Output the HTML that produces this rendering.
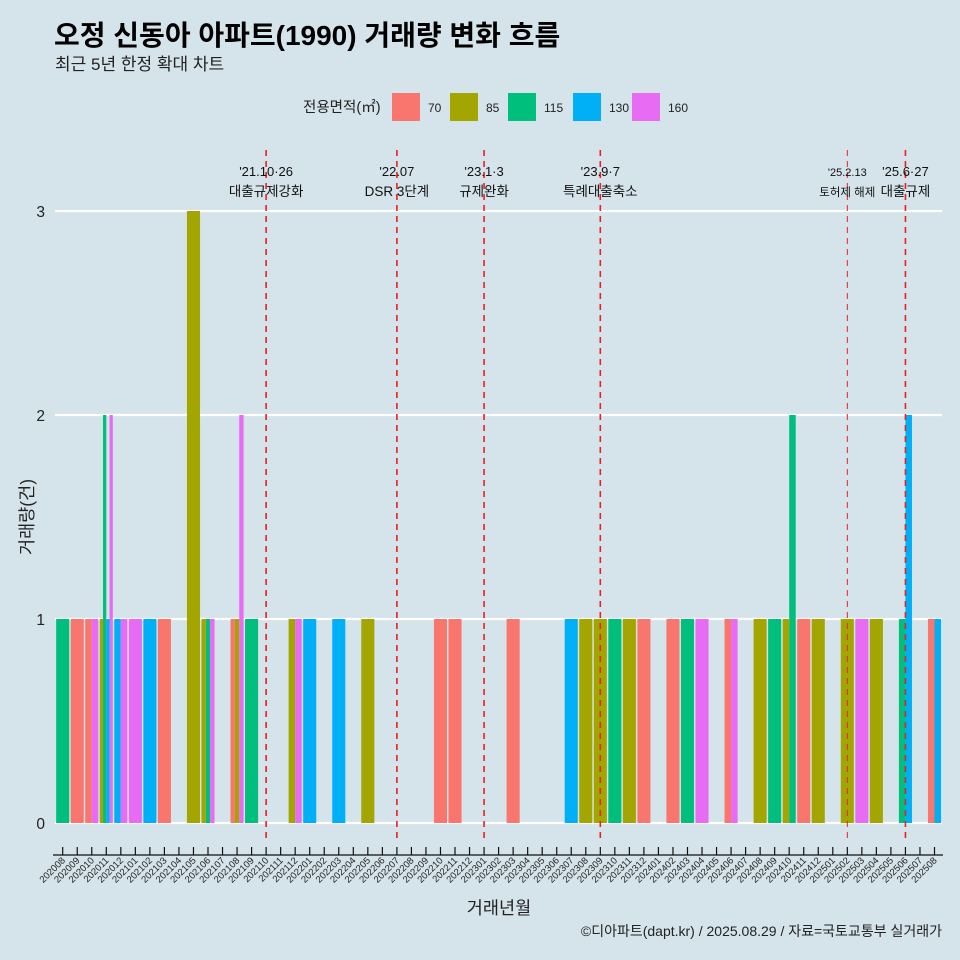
<!DOCTYPE html>
<html><head><meta charset="utf-8"><style>
body{margin:0;background:#d5e3ea;}
svg{display:block;font-family:"Liberation Sans","Noto Sans CJK KR",sans-serif;}
</style></head><body>
<svg id="chart" width="960" height="960" viewBox="0 0 960 960">
<rect width="960" height="960" fill="#d5e3ea"/>
<text x="54" y="45" font-size="28" font-weight="bold" fill="#000">오정 신동아 아파트(1990) 거래량 변화 흐름</text>
<text x="55" y="70" font-size="17" fill="#222">최근 5년 한정 확대 차트</text>
<g id="legend"></g>
<g id="grid"></g>
<g id="bars"></g>
<g id="events"></g>
<g id="xaxis"></g>
<g id="yaxis"></g>
<text x="499" y="914" font-size="17.5" text-anchor="middle" fill="#222">거래년월</text>
<text transform="translate(33,517) rotate(-90)" font-size="17.5" text-anchor="middle" fill="#222">거래량(건)</text>
<text x="942" y="936" font-size="14" text-anchor="end" fill="#222">©디아파트(dapt.kr) / 2025.08.29 / 자료=국토교통부 실거래가</text>
</svg>
<script>
const months = [];
for (let y=2020, m=8; !(y===2025 && m===9); ) { months.push(''+y+(m<10?'0':'')+m); m++; if(m>12){m=1;y++;} }
const sizes = ['70','85','115','130','160'];
const colors = ['#F8766D','#A3A500','#00BF7D','#00B0F6','#E76BF3'];
// [month, size, count]
const records = [
 ['202008','115',1],['202009','70',1],['202010','70',1],['202010','160',1],
 ['202011','85',1],['202011','115',2],['202011','130',1],['202011','160',2],
 ['202012','130',1],['202012','160',1],['202101','160',1],['202102','130',1],['202103','70',1],
 ['202105','85',3],['202106','85',1],['202106','115',1],['202106','160',1],
 ['202108','70',1],['202108','85',1],['202108','160',2],['202109','115',1],
 ['202112','85',1],['202112','160',1],['202201','130',1],['202203','130',1],['202205','85',1],
 ['202210','70',1],['202211','70',1],['202303','70',1],
 ['202307','130',1],['202308','85',1],['202309','85',1],['202310','115',1],['202311','85',1],['202312','70',1],
 ['202402','70',1],['202403','115',1],['202404','160',1],['202406','70',1],['202406','160',1],
 ['202408','85',1],['202409','115',1],['202410','85',1],['202410','115',2],['202411','70',1],['202412','85',1],
 ['202502','85',1],['202503','160',1],['202504','85',1],['202506','115',1],['202506','130',2],
 ['202508','70',1],['202508','130',1]
];
const yTicks = [0,1,2,3];
const eventMonths = ['202110','202207','202301','202309','202502','202506'];
const eventDates = ["'21.10·26","'22.07","'23.1·3","'23.9·7","'25.2.13","'25.6·27"];
const eventNames = ['대출규제강화','DSR 3단계','규제완화','특례대출축소','토허제 해제','대출규제'];

const NS='http://www.w3.org/2000/svg';
function mk(tag, attrs, parent){const e=document.createElementNS(NS,tag);for(const k in attrs)e.setAttribute(k,attrs[k]);parent.appendChild(e);return e;}
const X0=62.7, STEP=14.53, BW=STEP*0.9;
const xPos = m => X0 + months.indexOf(m)*STEP;
const yPos = v => 823 - v*204;

const grid=document.getElementById('grid'), yax=document.getElementById('yaxis');
yTicks.forEach(t=>{
  const l=mk('line',{x1:55,x2:942,y1:yPos(t),y2:yPos(t),stroke:'#fff','stroke-width':2.2},grid);
  
  
  const tx=mk('text',{x:45,y:yPos(t)+6,'font-size':15.5,'text-anchor':'end',fill:'#222'},yax);
  tx.textContent=t;
  
  
});

const bars=document.getElementById('bars');
months.forEach(m=>{
  const recs=records.filter(r=>r[0]===m).sort((a,b)=>sizes.indexOf(a[1])-sizes.indexOf(b[1]));
  if(!recs.length) return;
  const w=BW/recs.length, left=xPos(m)-BW/2;
  recs.forEach((r,i)=>{
    const b=mk('rect',{x:left+i*w,y:yPos(r[2]),width:w,height:yPos(0)-yPos(r[2]),fill:colors[sizes.indexOf(r[1])]},bars);
    
    
  });
});

const ev=document.getElementById('events');
eventMonths.forEach((m,i)=>{
  const x=xPos(m);
  const thin = m==='202502';
  const l=mk('line',{x1:x,x2:x,y1:150,y2:842,stroke:'#e8211e','stroke-width':thin?1:1.6,'stroke-dasharray':'6,5'},ev);
  
  
  const fs = thin?11:13;
  const t1=mk('text',{x:x,y:176,'font-size':fs,'text-anchor':'middle',fill:'#111'},ev);
  t1.textContent=eventDates[i];
  
  
  const t2=mk('text',{x:x,y:196,'font-size':fs+0.5,'text-anchor':'middle',fill:'#111'},ev);
  t2.textContent=eventNames[i];
  
  
});

const xax=document.getElementById('xaxis');
const al=mk('line',{x1:53,x2:943,y1:855,y2:855,stroke:'#111','stroke-width':1.3},xax);


months.forEach(m=>{
  const x=xPos(m);
  const tk=mk('line',{x1:x,x2:x,y1:847,y2:855,stroke:'#111','stroke-width':1.2},xax);
  
  
  const t=mk('text',{transform:`translate(${x+3},${861}) rotate(-45)`,'font-size':9.5,'text-anchor':'end',fill:'#222'},xax);
  t.textContent=m;
  
  
});

const lg=document.getElementById('legend');
const lt=mk('text',{x:303,y:112,'font-size':14.5,fill:'#222'},lg);
lt.textContent='전용면적(㎡)';


const keyX=[392,450,508,573,632];
sizes.forEach((s,i)=>{
  const r=mk('rect',{x:keyX[i],y:93,width:28,height:28,fill:colors[i]},lg);
  
  
  const t=mk('text',{x:keyX[i]+36,y:112,'font-size':12,fill:'#222'},lg);
  t.textContent=s;
  
  
});
</script>
</body></html>
